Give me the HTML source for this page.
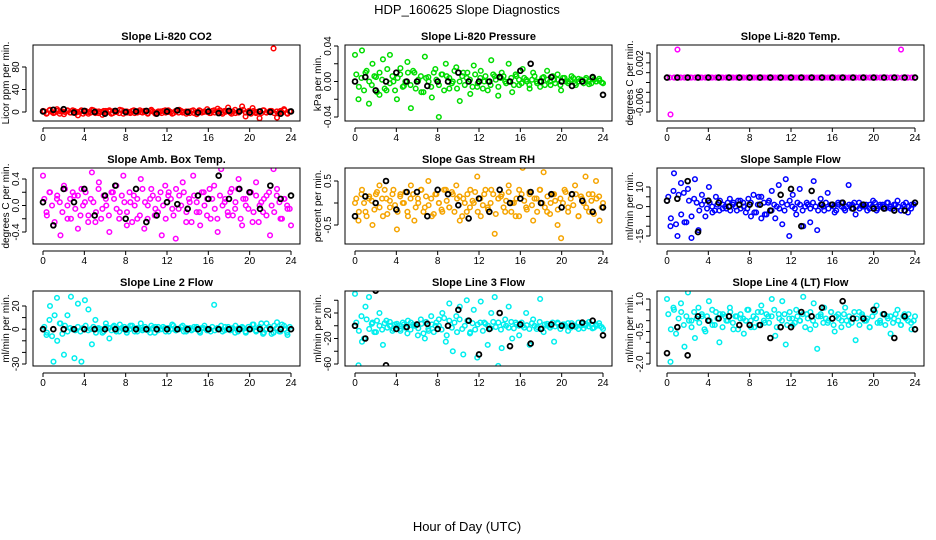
<!DOCTYPE html>
<html><head><meta charset="utf-8"><style>
body{margin:0;background:#fff}
svg{display:block;font-family:"Liberation Sans",sans-serif}
</style></head><body>
<svg id="c" width="936" height="540" xmlns="http://www.w3.org/2000/svg">
<text x="467" y="14" text-anchor="middle" font-size="13">HDP_160625  Slope Diagnostics</text>
<text x="467" y="531" text-anchor="middle" font-size="13">Hour of Day (UTC)</text>
</svg>
<script>
const xTicks=[0,4,8,12,16,20,24];
const co2Color=[2,-3,4,-2,5,1,-4,3,-1,2,-6,3,0,-3,4,-2,1,-5,2,3,-2,0,4,-3,1,-2,3,-1,0,2,-3,4,-1,1,-2,3,0,-3,2,4,-1,1,-2,3,-4,2,0,5,-2,3,6,-1,2,8,-3,4,-1,10,-8,2,7,-2,-11,3,-1,2,113,-10,2,5,-3,1];
const co2Core=[1,-2,3,0,-1,2,-3,1,0,2,-1,3,-2,0,1,-3,2,0,-1,3,1,-2,0,2,-1,1,-3,2,0,-2,3,1,-1,0,2,-2,1,3,-1,0,-2,2,1,-3,0,1,2,-1,3,0,-2,1,-1,2,0,-3,1,2,-2,0,3,-1,1,0,-2,2,-1,1,3,-3,0,2,-1,1,-2,0,2,4,-1,1,-3,2,0,1,-2,3,-1,0,2,-2,1,0,-1,3,-2,1];
const co2Black=[1,4,5,-1,2,0,-3,2,0,1,2,-3,1,3,0,-1,1,-2,2,1,-1,1,0,-3,1];
const presColor=[.03,-.02,.035,.01,-.025,.02,.005,-.015,.025,-.01,.03,0,-.02,.015,-.005,.022,-.03,.01,0,-.012,.028,.005,-.018,.014,-.04,.008,.02,-.008,0,.016,-.022,.01,.004,-.014,.018,-.006,.012,0,-.01,.024,.006,-.016,.01,0,.02,-.012,.008,-.004,.014,.002,-.008,.01,0,-.006,.005,.012,-.004,.002,.008,-.01,.004,0,.006,-.002,.003,0,.002,-.003,.004,0,.001,-.002];
const presCore=[.008,-.006,.004,-.01,.012,0,-.004,.006,-.012,.01,.002,-.008,.014,-.002,.006,-.01,.004,.008,-.006,0,.01,-.004,.012,-.008,.002,.006,-.012,.004,0,-.006,.01,.002,-.004,.008,-.01,.006,.004,-.002,.012,-.008,0,.006,-.004,.01,.002,-.006,.008,-.002,.004,-.008,.006,0,-.004,.008,.002,-.006,.004,.006,-.002,0,.004,-.004,.006,.002,-.002,.004,0,-.004,.002,.006,-.002,0,.004,-.004,.002,0,.006,-.002,.002,-.004,.004,0,-.002,.002,.004,-.004,0,.002,-.002,.004,0,-.002,.002,0,.003,-.001];
const presBlack=[0,.005,-.01,0,.01,0,0,-.005,0,0,.01,0,0,0,.005,0,.012,.02,0,.005,0,-.005,0,.005,-.015];
const tempColor=[-.001,-.0085,-.001,.0047,-.001,-.001,-.001,-.001,-.001,-.001,-.001,-.001,-.001,-.001,-.001,-.001,-.001,-.001,-.001,-.001,-.001,-.001,-.001,-.001,-.001,-.001,-.001,-.001,-.001,-.001,-.001,-.001,-.001,-.001,-.001,-.001,-.001,-.001,-.001,-.001,-.001,-.001,-.001,-.001,-.001,-.001,-.001,-.001,-.001,-.001,-.001,-.001,-.001,-.001,-.001,-.001,-.001,-.001,-.001,-.001,-.001,-.001,-.001,-.001,-.001,-.001,-.001,.0047,-.001,-.001,-.001,-.001];
const tempCore=[-.001,-.001,-.001,-.001,-.001,-.001,-.001,-.001,-.001,-.001,-.001,-.001,-.001,-.001,-.001,-.001,-.001,-.001,-.001,-.001,-.001,-.001,-.001,-.001,-.001,-.001,-.001,-.001,-.001,-.001,-.001,-.001,-.001,-.001,-.001,-.001,-.001,-.001,-.001,-.001,-.001,-.001,-.001,-.001,-.001,-.001,-.001,-.001];
const tempBlack=[-.001,-.001,-.001,-.001,-.001,-.001,-.001,-.001,-.001,-.001,-.001,-.001,-.001,-.001,-.001,-.001,-.001,-.001,-.001,-.001,-.001,-.001,-.001,-.001,-.001];
const ambColor=[.45,-.1,.2,-.3,.1,-.45,.3,0,-.2,.15,-.35,.25,.05,-.15,.5,-.25,.35,-.05,.1,-.4,.2,.3,-.1,.45,-.3,.05,.15,-.2,.4,-.35,0,.25,-.15,.1,-.45,.3,.2,-.05,-.5,.15,.35,-.25,.05,.45,-.1,-.3,.2,.1,-.2,.3,-.4,.55,.05,-.15,.25,-.05,.4,-.3,.1,.2,-.25,.35,0,-.1,.15,-.45,.55,.25,-.2,.1,-.05,-.3];
const ambCore=[.1,-.15,.2,0,-.25,.15,.05,-.1,.25,-.2,.1,.2,-.05,.15,-.15,0,.2,-.25,.1,.05,-.1,.25,-.2,.15,0,-.15,.2,.1,-.05,-.2,.15,.05,-.1,.2,-.25,0,.1,-.15,.25,.05,-.2,.1,.15,-.05,-.1,.2,0,-.2,.15,.1,-.15,.25,-.05,0,.2,-.1,.1,-.25,.15,.05,-.1,.2,0,-.15,.25,.1,-.05,-.2,.15,0,.1,-.1,.2,-.15,.05,.25,-.2,.1,0,-.05,.2,-.1,.15,-.25,.05,.1,-.15,.2,0,-.1,.15,.05,-.2,.1,0,-.05];
const ambBlack=[.05,-.3,.25,.05,.25,-.15,.15,.3,-.2,.25,-.25,-.15,.05,.02,-.05,.15,.1,.45,.1,.25,.2,-.05,.3,.1,.15];
const rhColor=[0,-.4,.3,-.2,.1,-.5,.2,.4,-.3,.1,-.1,.3,-.6,.2,0,-.2,.4,-.4,.1,.3,-.1,.5,-.3,.2,0,-.2,.3,-.1,.2,.4,-.4,.1,-.2,.3,0,.6,-.3,.2,-.1,.3,-.7,.1,.2,-.2,.4,0,-.3,.3,.8,-.1,.2,-.4,.1,.3,.7,-.2,0,.2,-.5,-.8,.3,-.1,.2,.4,-.3,.1,.6,-.2,.2,.5,-.4,0];
const rhCore=[.1,-.2,.2,0,-.3,.15,.05,-.15,.25,-.1,.1,.3,-.25,.05,.2,-.05,-.2,.15,0,.25,-.3,.1,.2,-.1,0,.3,-.2,.15,-.05,.1,-.25,.2,0,-.15,.3,.05,-.1,.25,-.2,.1,.15,-.3,0,.2,-.1,.05,.25,-.2,.1,-.05,.3,-.15,0,.2,-.25,.1,.15,-.1,.05,.25,-.2,0,.1,-.3,.2,.05,-.15,.25,-.05,.1,-.2,.3,0,-.1,.15,-.25,.2,.05,-.15,.1,0,.25,-.2,.1,-.05,.2,-.3,.15,0,-.1,.2,.05,-.25,.1,.15,-.1];
const rhBlack=[-.3,.15,0,.5,-.15,.25,.25,-.3,.3,.2,-.05,-.35,.1,-.2,.3,0,.1,.25,0,.2,-.1,.2,.05,-.2,-.1];
const sampColor=[3,-10,17,-15,12,-8,9,-16,14,-12,6,-5,10,-3,5,-2,1,-1,4,2,-2,3,0,-1,2,-3,1,5,-4,2,8,-6,11,-9,14,-15,6,-4,9,-10,2,-8,13,-12,4,-2,7,1,-3,2,0,-2,11,1,-4,2,0,1,-1,3,-2,1,0,2,-1,1,3,-2,0,-3,1,2];
const sampCore=[5,-6,8,-9,6,-4,7,-8,3,-5,4,2,-2,1,3,-1,2,0,-2,1,3,-1,0,2,-2,1,0,3,-1,2,-3,4,-5,6,-3,5,-6,2,-4,3,-2,1,0,-1,2,-2,1,3,0,-1,2,1,-2,0,1,-1,2,0,-2,1,0,2,-1,1,0,-2,1,2,-1,0,1,-1,2,0,-1,1,0,-2,1,0,2,-1,0,1,-1,2,0,-1,1,0,-2,1,2,0,-1,1];
const sampBlack=[3,4,13,-13,3,2,0,1,1,1,-2,6,9,-10,8,1,1,2,-1,1,-1,-1,-2,-2,2];
const l2Color=[0,-5,20,-28,27,5,-22,12,28,-25,22,-28,25,17,-13,8,0,-3,5,-8,2,-2,4,0,-3,3,1,-2,5,0,-1,3,-3,2,0,1,-2,4,-1,0,3,-2,1,0,2,-3,1,0,-2,21,0,3,-1,2,0,-3,1,2,-2,0,4,-1,2,-4,5,0,-3,6,-2,3,-5,0];
const l2Core=[2,-3,8,-6,12,-10,5,-4,3,-2,1,0,-1,2,-2,1,3,-1,0,2,-3,1,0,-2,2,1,-1,3,0,-2,1,2,-1,0,3,-2,1,0,-1,2,0,-3,1,2,-1,0,2,-2,1,0,3,-1,0,2,-2,1,0,-1,2,0,-2,1,3,-1,0,2,-1,1,0,-2,2,0,-1,1,3,-2,0,1,-3,2,0,4,-2,1,5,-3,0,2,-4,3,1,-2,4,0,-3,2];
const l2Black=[0,0,0,0,0,0,0,0,0,0,0,0,0,0,0,0,0,0,0,0,0,0,0,0,0];
const l3Color=[50,-62,-25,30,45,5,-10,20,-30,8,0,-5,3,-8,2,-12,5,0,-15,3,-20,-5,2,0,10,20,-25,35,-40,15,30,-45,40,-10,25,-50,38,5,-30,20,45,-63,-35,10,30,-20,5,-15,0,20,-30,10,-5,42,-10,3,0,-25,5,0,2,-8,4,0,-5,3,0,6,-4,2,0,-5];
const l3Core=[5,-8,15,-20,10,-5,3,-10,8,0,-6,4,-3,6,-8,2,0,-5,5,-3,8,-6,2,0,-4,10,-12,6,-8,15,-10,5,0,-6,12,-15,8,-3,5,-10,10,-5,0,8,-12,4,-6,2,5,-8,3,0,-4,6,-2,5,-6,2,0,-3,6,-4,2,0,5,-3,1,-5,4,0,-2,6,-4,2,0,-3,5,-1,3,-5,2,0,4,-3,1,-2,5,0,-4,3,-1,2,-3,0,4,-2];
const l3Black=[0,-20,55,-62,-5,-2,2,3,-5,0,25,8,-45,-5,20,-32,2,-28,-5,2,0,0,5,8,-15];
const l4Color=[1.0,-1.9,.5,-.3,.8,-1.2,1.3,0,-.8,.6,.2,-.5,.9,-.2,.4,-1.0,.3,0,.6,-.4,.2,.1,-.6,.5,0,-.3,.4,.7,-.1,.2,1.0,-.7,.3,.9,-1.1,.1,-.2,.5,0,1.1,.3,-.4,.8,-1.3,.2,.6,-.1,.4,-.5,.3,0,.6,-.2,.1,-.9,.4,.2,0,-.3,.5,.7,-.1,.3,.2,-.6,.1,.5,-.2,.3,0,-.4,.2];
const l4Core=[.3,-.4,.6,-.6,.1,.4,-.2,.2,0,-.3,.4,.1,-.1,.3,-.4,.2,0,.5,-.2,.1,.3,-.3,.2,0,.4,-.1,.2,-.4,.3,.1,0,.5,-.3,.2,.1,-.2,.4,0,.3,-.1,.2,.5,-.3,.1,0,.3,-.2,.4,.1,-.1,.2,0,.3,-.3,.1,.4,0,-.2,.2,.3,-.1,.1,0,.4,-.2,.2,.1,-.3,.3,0,.2,-.1,.4,.1,-.2,.3,0,.1,-.3,.2,.4,-.1,0,.3,-.2,.1,.2,-.1,.3,0,-.2,.2,.1,.3,-.1,0];
const l4Black=[-1.5,-.3,-1.6,.2,0,.1,.2,-.2,-.2,-.2,-.8,-.3,-.3,.4,.2,.6,.1,.9,.1,.1,.5,.3,-.8,.2,-.4];

const svg=document.getElementById('c');
const NS='http://www.w3.org/2000/svg';
function mk(t,a,p){const e=document.createElementNS(NS,t);for(const k in a)e.setAttribute(k,a[k]);(p||svg).appendChild(e);return e;}
const cols=[33,345,657], rows=[[45,121],[168,244],[291,366]];
const panels=[
 {t:'Slope Li-820 CO2',yl:'Licor ppm per min.',c:co2Color,k:co2Core,b:co2Black,col:'#ff0000',v1:0,p1:112,v2:80,p2:67,ticks:[0,40,80],labs:[0,40,80],fmt:v=>String(v)},
 {t:'Slope Li-820 Pressure',yl:'kPa per min.',c:presColor,k:presCore,b:presBlack,col:'#00dd00',v1:0.04,p1:46,v2:-0.04,p2:117,ticks:[-.04,-.02,0,.02,.04],labs:[-.04,0,.04],fmt:v=>v.toFixed(2)},
 {t:'Slope Li-820 Temp.',yl:'degrees C per min.',c:tempColor,k:tempCore,b:tempBlack,col:'#ff00ff',v1:.004,p1:53,v2:-.008,p2:112,ticks:[.004,.002,0,-.002,-.004,-.006,-.008],labs:[.002,-.006],fmt:v=>v.toFixed(3)},
 {t:'Slope Amb. Box Temp.',yl:'degrees C per min.',c:ambColor,k:ambCore,b:ambBlack,col:'#ff00ff',v1:.4,p1:179,v2:-.4,p2:232,ticks:[-.4,-.2,0,.2,.4],labs:[-.4,0,.4],fmt:v=>v.toFixed(1)},
 {t:'Slope Gas Stream RH',yl:'percent per min.',c:rhColor,k:rhCore,b:rhBlack,col:'#f5a400',v1:.5,p1:181,v2:-.5,p2:225,ticks:[-.5,0,.5],labs:[-.5,.5],fmt:v=>v.toFixed(1)},
 {t:'Slope Sample Flow',yl:'ml/min per min.',c:sampColor,k:sampCore,b:sampBlack,col:'#0000ff',v1:10,p1:187,v2:-15,p2:236,ticks:[10,5,0,-5,-10,-15],labs:[10,0,-15],fmt:v=>String(v)},
 {t:'Slope Line 2 Flow',yl:'ml/min per min.',c:l2Color,k:l2Core,b:l2Black,col:'#00eeee',v1:20,p1:306,v2:-30,p2:364,ticks:[20,10,0,-10,-20,-30],labs:[20,0,-30],fmt:v=>String(v)},
 {t:'Slope Line 3 Flow',yl:'ml/min per min.',c:l3Color,k:l3Core,b:l3Black,col:'#00eeee',v1:20,p1:313,v2:-60,p2:364,ticks:[40,20,0,-20,-40,-60],labs:[20,-20,-60],fmt:v=>String(v)},
 {t:'Slope Line 4 (LT) Flow',yl:'ml/min per min.',c:l4Color,k:l4Core,b:l4Black,col:'#00eeee',v1:1,p1:299,v2:-2,p2:364,ticks:[1,.5,0,-.5,-1,-1.5,-2],labs:[1,-.5,-2],fmt:v=>v.toFixed(1)}
];
panels.forEach((P,i)=>{
 const L=cols[i%3],R=L+267,[T,B]=rows[Math.floor(i/3)];
 const xs=h=>L+10+h*248/24;
 const ys=v=>P.p1+(v-P.v1)*(P.p2-P.p1)/(P.v2-P.v1);
 const g=mk('g',{});
 
 
 const cl='clip'+i;
 const cp=mk('clipPath',{id:cl},g);mk('rect',{x:L,y:T,width:R-L,height:B-T},cp);
 const tt=mk('text',{x:(L+R)/2,y:T-5,'text-anchor':'middle','font-size':'11','font-weight':'bold'},g);tt.textContent=P.t;
 
 
 const pts=mk('g',{'clip-path':'url(#'+cl+')'},g);
 P.k.forEach((v,k)=>{const c=mk('circle',{cx:xs(24*(k+0.5)/P.k.length),cy:ys(v),r:2.3,fill:'none',stroke:P.col,'stroke-width':1.5},pts);
  
  });
 P.c.forEach((v,k)=>{const c=mk('circle',{cx:xs(24*k/(P.c.length-1)),cy:ys(v),r:2.3,fill:'none',stroke:P.col,'stroke-width':1.5},pts);
  
  });
 P.b.forEach((v,k)=>{const c=mk('circle',{cx:xs(24*k/(P.b.length-1)),cy:ys(v),r:2.4,fill:'none',stroke:'#000','stroke-width':1.8},pts);
  
  });
 const box=mk('rect',{x:L,y:T,width:R-L,height:B-T,fill:'none',stroke:'#000','stroke-width':1},g);
 
 
 mk('line',{x1:xs(0),x2:xs(24),y1:B+7,y2:B+7,stroke:'#000'},g);
 xTicks.forEach(h=>{mk('line',{x1:xs(h),x2:xs(h),y1:B+7,y2:B+11,stroke:'#000'},g);
  const t=mk('text',{x:xs(h),y:B+20,'text-anchor':'middle','font-size':'10'},g);t.textContent=h;
  
  });
 const ax=L-7;
 mk('line',{x1:ax,x2:ax,y1:ys(P.ticks[0]),y2:ys(P.ticks[P.ticks.length-1]),stroke:'#000'},g);
 P.ticks.forEach(v=>mk('line',{x1:ax-4,x2:ax,y1:ys(v),y2:ys(v),stroke:'#000'},g));
 P.labs.forEach(v=>{const t=mk('text',{x:ax-7,y:ys(v),'text-anchor':'middle','font-size':'10',transform:`rotate(-90 ${ax-7} ${ys(v)})`},g);t.textContent=P.fmt(v);
  
  });
 const yx=L-24,yy=(T+B)/2;
 const yl=mk('text',{x:yx,y:yy,'text-anchor':'middle','font-size':'10',transform:`rotate(-90 ${yx} ${yy})`},g);yl.textContent=P.yl;
 
 
});
</script>
</body></html>
